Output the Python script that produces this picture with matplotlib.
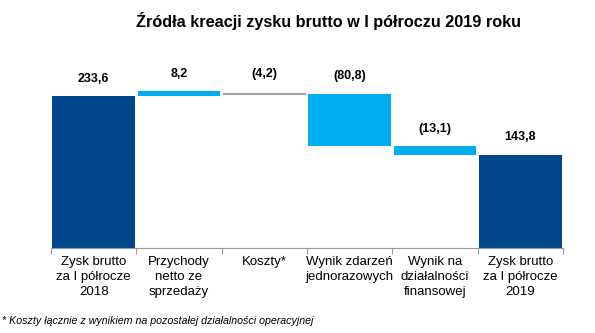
import matplotlib.pyplot as plt
import numpy as np

plt.rcParams["font.family"] = ["Liberation Sans", "DejaVu Sans"]

categories = [
    "Zysk brutto\nza I półrocze\n2018",
    "Przychody\nnetto ze\nsprzedaży",
    "Koszty*",
    "Wynik zdarzeń\njednorazowych",
    "Wynik na\ndziałalności\nfinansowej",
    "Zysk brutto\nza I półrocze\n2019",
]
values = [233.6, 8.2, -4.2, -80.8, -13.1, 143.8]
is_total = [True, False, False, False, False, True]
value_labels = ["233,6", "8,2", "(4,2)", "(80,8)", "(13,1)", "143,8"]

DARK = "#00468C"
LIGHT = "#00AEEF"
GREY = "#9A9A9A"


def main() -> None:
    fig = plt.figure(figsize=(5.95, 3.33), dpi=100)
    ax = fig.add_axes([51 / 595, 1 - 248 / 333, 512 / 595, 208 / 333])

    x = np.arange(len(values))
    w = 0.97
    running = 0.0
    for i, (v, total) in enumerate(zip(values, is_total)):
        if total:
            bottom, height = 0.0, v
            running = v
        else:
            bottom = running + min(v, 0)
            height = abs(v)
            running += v
        top = bottom + height
        if categories[i].startswith("Koszty"):
            # small cost step drawn as a thin grey line in the original
            ax.hlines(bottom, x[i] - w / 2, x[i] + w / 2, color=GREY, linewidth=1.3)
        else:
            ax.bar(x[i], height, bottom=bottom, width=w,
                   color=DARK if total else LIGHT, edgecolor="none")
        ax.annotate(value_labels[i], (x[i], top), xytext=(0, 8),
                    textcoords="offset points", ha="center", va="bottom",
                    fontsize=9, fontweight="bold")

    ax.set_xlim(-0.5, len(values) - 0.5)
    ax.set_ylim(0, 320)
    ax.set_yticks([])
    for s in ["top", "left", "right"]:
        ax.spines[s].set_visible(False)
    ax.spines["bottom"].set_color(GREY)
    ax.spines["bottom"].set_linewidth(0.8)

    ax.set_xticks(x)
    ax.set_xticklabels(categories, fontsize=9.5, linespacing=1.3)
    ax.tick_params(axis="x", which="major", length=0, pad=6)
    ax.set_xticks(np.arange(-0.5, len(values)), minor=True)
    ax.tick_params(axis="x", which="minor", length=4, color=GREY, width=0.8)

    fig.text(328 / 595, 1 - 21 / 333, "Źródła kreacji zysku brutto w I półroczu 2019 roku",
             ha="center", va="center", fontsize=11.7, fontweight="bold")
    fig.text(2 / 595, 1 - 321 / 333,
             "* Koszty łącznie z wynikiem na pozostałej działalności operacyjnej",
             ha="left", va="center", fontsize=7.7, style="italic")

    fig.savefig("out.png", dpi=100)
    plt.close(fig)


if __name__ == "__main__":
    main()
